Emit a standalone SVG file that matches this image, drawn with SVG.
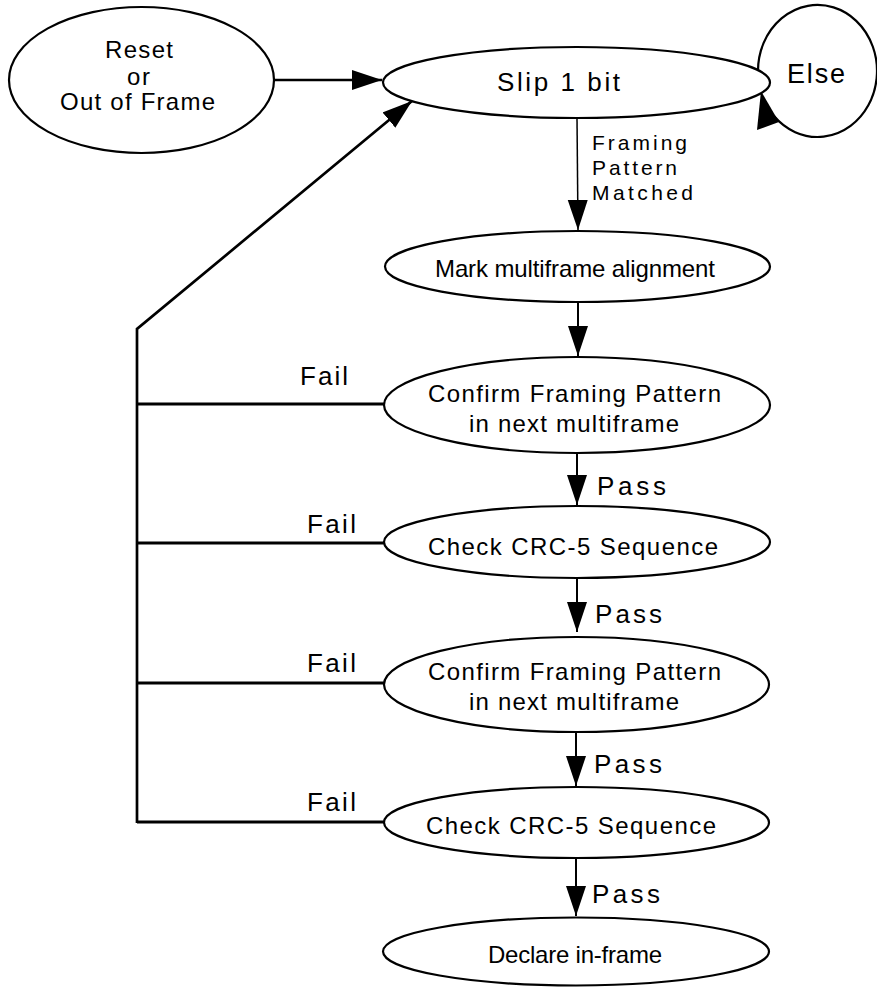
<svg xmlns="http://www.w3.org/2000/svg" width="877" height="987" viewBox="0 0 877 987">
<style>
.n{fill:#fff;stroke:#000;stroke-width:2.2}
.t{font-family:"Liberation Sans",Arial,sans-serif;fill:#000}
.c{fill:none;stroke:#000}
</style>
<defs>
<marker id="ah" markerUnits="userSpaceOnUse" markerWidth="32" markerHeight="22" refX="30" refY="10" orient="auto" viewBox="0 0 32 22">
<path d="M0,0 L30,10 L0,20 Z" fill="#000"/>
</marker>
</defs>
<rect width="877" height="987" fill="#fff"/>
<g id="connectors">
<line class="c" x1="274" y1="80" x2="382" y2="80" stroke-width="2.5" marker-end="url(#ah)"/>
<line class="c" x1="577" y1="118" x2="578" y2="230" stroke-width="1.5" marker-end="url(#ah)"/>
<line class="c" x1="578" y1="302" x2="578" y2="356" stroke-width="2" marker-end="url(#ah)"/>
<line class="c" x1="577" y1="453" x2="577" y2="505" stroke-width="2" marker-end="url(#ah)"/>
<line class="c" x1="577" y1="578" x2="577" y2="632" stroke-width="2" marker-end="url(#ah)"/>
<line class="c" x1="576" y1="732" x2="576" y2="786" stroke-width="2" marker-end="url(#ah)"/>
<line class="c" x1="576" y1="858" x2="576" y2="916" stroke-width="2" marker-end="url(#ah)"/>
<polyline class="c" points="137,823 137,329 412,101" stroke-width="2.7" marker-end="url(#ah)"/>
<line class="c" x1="137" y1="404" x2="385" y2="404" stroke-width="3"/>
<line class="c" x1="137" y1="543" x2="385" y2="543" stroke-width="3"/>
<line class="c" x1="137" y1="683" x2="385" y2="683" stroke-width="3"/>
<line class="c" x1="137" y1="822" x2="385" y2="822" stroke-width="3"/>
<path class="c" d="M 758 71 A 59.5 66 0 1 1 774 116" stroke-width="2.2"/>
<polygon points="761,91 757,130 779,122" fill="#000"/>
<text class="t" x="300" y="385" font-size="26" textLength="48" lengthAdjust="spacing">Fail</text>
<text class="t" x="307" y="533" font-size="26" textLength="49" lengthAdjust="spacing">Fail</text>
<text class="t" x="307" y="672" font-size="26" textLength="49" lengthAdjust="spacing">Fail</text>
<text class="t" x="307" y="811" font-size="26" textLength="49" lengthAdjust="spacing">Fail</text>
<text class="t" x="597" y="495" font-size="26" textLength="69" lengthAdjust="spacing">Pass</text>
<text class="t" x="595" y="623" font-size="26" textLength="67" lengthAdjust="spacing">Pass</text>
<text class="t" x="594" y="773" font-size="26" textLength="68" lengthAdjust="spacing">Pass</text>
<text class="t" x="592" y="903" font-size="26" textLength="68" lengthAdjust="spacing">Pass</text>
<text class="t" x="592" y="150" font-size="21" textLength="95" lengthAdjust="spacing">Framing</text>
<text class="t" x="592" y="175" font-size="21" textLength="85" lengthAdjust="spacing">Pattern</text>
<text class="t" x="592" y="200" font-size="21" textLength="101" lengthAdjust="spacing">Matched</text>
</g>
<g id="reset">
<ellipse class="n" cx="141.5" cy="80" rx="132.5" ry="73"/>
<text class="t" x="105" y="58" font-size="24" textLength="68" lengthAdjust="spacing">Reset</text>
<text class="t" x="127" y="85" font-size="24" textLength="23" lengthAdjust="spacing">or</text>
<text class="t" x="60" y="110" font-size="24" textLength="155" lengthAdjust="spacing">Out of Frame</text>
</g>
<g id="slip">
<ellipse class="n" cx="576.5" cy="82.5" rx="193.5" ry="35.5"/>
<text class="t" x="497" y="91" font-size="26" textLength="123" lengthAdjust="spacing">Slip 1 bit</text>
</g>
<g id="else">
<text class="t" x="787" y="83" font-size="27" textLength="58" lengthAdjust="spacing">Else</text>
</g>
<g id="mark">
<ellipse class="n" cx="577.5" cy="266.5" rx="192.5" ry="35.5"/>
<text class="t" x="435" y="277" font-size="24" textLength="280" lengthAdjust="spacing">Mark multiframe alignment</text>
</g>
<g id="confirm1">
<ellipse class="n" cx="577" cy="405" rx="193" ry="48"/>
<text class="t" x="428" y="402" font-size="24" textLength="293" lengthAdjust="spacing">Confirm Framing Pattern</text>
<text class="t" x="469" y="432" font-size="24" textLength="210" lengthAdjust="spacing">in next multiframe</text>
</g>
<g id="check1">
<ellipse class="n" cx="577" cy="542" rx="193" ry="36"/>
<text class="t" x="428" y="555" font-size="24" textLength="290" lengthAdjust="spacing">Check CRC-5 Sequence</text>
</g>
<g id="confirm2">
<ellipse class="n" cx="576.5" cy="684.5" rx="192.5" ry="47.5"/>
<text class="t" x="428" y="680" font-size="24" textLength="293" lengthAdjust="spacing">Confirm Framing Pattern</text>
<text class="t" x="469" y="710" font-size="24" textLength="210" lengthAdjust="spacing">in next multiframe</text>
</g>
<g id="check2">
<ellipse class="n" cx="576.5" cy="822.5" rx="192.5" ry="35.5"/>
<text class="t" x="426" y="834" font-size="24" textLength="290" lengthAdjust="spacing">Check CRC-5 Sequence</text>
</g>
<g id="declare">
<ellipse class="n" cx="576" cy="951.5" rx="193" ry="34"/>
<text class="t" x="488" y="963" font-size="24" textLength="174" lengthAdjust="spacing">Declare in-frame</text>
</g>
</svg>
